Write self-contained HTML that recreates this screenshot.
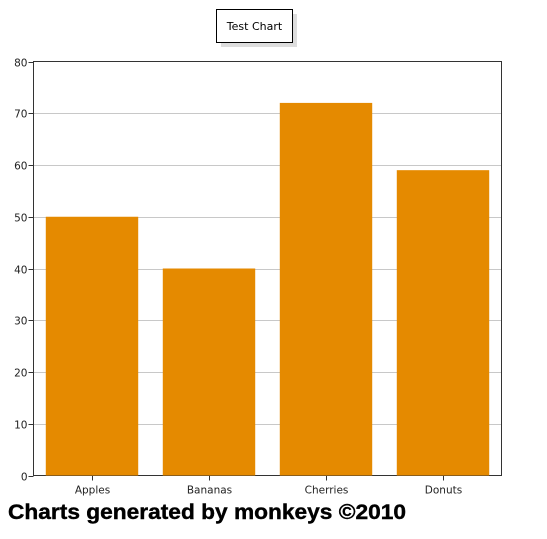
<!DOCTYPE html>
<html><head><meta charset="utf-8"><style>
body{margin:0;background:#fff;width:547px;height:539px;overflow:hidden;font-family:"DejaVu Sans","Liberation Sans",sans-serif}
svg{display:block}
</style></head><body>
<svg width="547" height="539" id="chart">
<rect x="221" y="14" width="76" height="33" fill="#ddd"/>
<rect x="216.5" y="9.5" width="76" height="33" fill="#fff" stroke="#000"/>
<text x="254.5" y="30" font-size="11" text-anchor="middle">Test Chart</text>
<g id="grid"></g>
<rect x="33.5" y="61.5" width="468" height="414" fill="none" stroke="#333"/>
<g id="bars"></g>
<text x="8" y="519" font-family="Liberation Sans, sans-serif" font-weight="bold" font-size="21" textLength="398" lengthAdjust="spacingAndGlyphs" stroke="#000" stroke-width="0.4">Charts generated by monkeys ©2010</text>
</svg>
<script>
const categories=["Apples","Bananas","Cherries","Donuts"];
const values=[50,40,72,59];
const ticks=[0,10,20,30,40,50,60,70,80];
const L=33.5,R=501.5,T=61.5,B=475.5,maxV=80;
const y=v=>B-(v/maxV)*(B-T);
const band=(R-L)/categories.length;
const x=i=>L+band*i;
const ns="http://www.w3.org/2000/svg";
const grid=document.getElementById('grid'),bars=document.getElementById('bars');
function mk(tag,attrs,parent){const e=document.createElementNS(ns,tag);for(const k in attrs)e.setAttribute(k,attrs[k]);parent.appendChild(e);return e;}
ticks.forEach(t=>{
 const yy=Math.round(y(t))+0.5;
 if(t>0&&t<maxV){const g=mk('line',{x1:L,x2:R,y1:yy,y2:yy,stroke:'#c8c8c8'},grid);
 
 }
 const tk=mk('line',{x1:L-5,x2:L,y1:yy,y2:yy,stroke:'#333'},grid);
 
 
 const tx=mk('text',{x:L-6,y:yy+4,'font-size':'10.5','text-anchor':'end',fill:'#222'},grid);
 tx.textContent=t;
 
 
});
categories.forEach((c,i)=>{
 const bw=band*0.79,bx=x(i)+(band-bw)/2;
 const r=mk('rect',{x:bx,y:y(values[i]),width:bw,height:B-y(values[i]),fill:'#e58a00'},bars);
 
 
 const cx=Math.round(x(i)+band/2)+0.5;
 const tk=mk('line',{x1:cx,x2:cx,y1:B,y2:B+5,stroke:'#333'},bars);
 
 
 const t=mk('text',{x:cx,y:B+18,'font-size':'10.5','text-anchor':'middle',fill:'#222'},bars);
 t.textContent=c;
 
 
});
</script>
</body></html>
